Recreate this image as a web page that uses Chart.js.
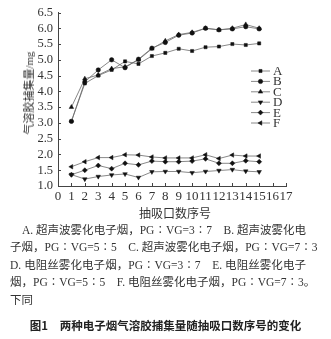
<!DOCTYPE html>
<html>
<head>
<meta charset="utf-8">
<script src="https://cdn.jsdelivr.net/npm/chart.js@4/dist/chart.umd.min.js"></script>
<style>
  html, body { margin: 0; padding: 0; background: #fff; }
  #wrap { position: relative; width: 331px; height: 339px; overflow: hidden; }
  #chartBox { position: absolute; left: 0; top: 0; width: 331px; height: 222px; }
  #ytitle { position: absolute; left: 28px; top: 93px; transform: translate(-50%, -50%) rotate(-90deg);
    font-family: "Liberation Serif", "Noto Sans CJK SC", serif; font-size: 11px; color: #333; white-space: nowrap; }
  #xtitle { position: absolute; left: 175px; top: 212px; transform: translate(-50%, -50%);
    font-family: "Noto Sans CJK SC", sans-serif; font-size: 12px; color: #333; white-space: nowrap; }
  #notes { position: absolute; left: 10px; top: 222px; width: 296px; font-family: "Liberation Serif", "Noto Sans CJK SC", serif;
    font-size: 11.5px; color: #333; line-height: 17.4px; }
  .ln { text-align: justify; text-align-last: justify; white-space: nowrap; }
  .ln1 { padding-left: 12px; }
  .last { text-align: left; text-align-last: left; }
  #cap { position: absolute; left: 0; top: 317px; width: 331px; text-align: center; font-family: "Noto Sans CJK SC", sans-serif;
    font-weight: bold; font-size: 11.5px; color: #222; white-space: nowrap; }
</style>
</head>
<body>
<div id="wrap">
  <div id="chartBox"><canvas id="c"></canvas></div>
  <div id="ytitle">气溶胶捕集量/mg</div>
  <div id="xtitle">抽吸口数序号</div>
  <div id="notes">
    <div class="ln ln1">A. 超声波雾化电子烟，PG∶VG=3∶7　B. 超声波雾化电</div>
    <div class="ln">子烟，PG∶VG=5∶5　C. 超声波雾化电子烟，PG∶VG=7∶3</div>
    <div class="ln">D. 电阻丝雾化电子烟，PG∶VG=3∶7　E. 电阻丝雾化电子</div>
    <div class="ln">烟，PG∶VG=5∶5　F. 电阻丝雾化电子烟，PG∶VG=7∶3。</div>
    <div class="ln last">下同</div>
  </div>
  <div id="cap">图1　两种电子烟气溶胶捕集量随抽吸口数序号的变化</div>
</div>
<script>
const puffs = [1,2,3,4,5,6,7,8,9,10,11,12,13,14,15];
const seriesNames = ['A','B','C','D','E','F'];
const A = [3.05,4.25,4.50,4.68,4.95,4.87,5.12,5.22,5.35,5.28,5.40,5.42,5.50,5.47,5.52];
const B = [3.05,4.30,4.68,5.00,4.75,5.02,5.37,5.55,5.78,5.85,6.00,5.95,5.98,6.05,5.98];
const C = [3.50,4.40,4.52,4.72,4.78,5.00,5.35,5.60,5.80,5.87,6.00,5.95,6.00,6.12,6.00];
const D = [1.36,1.22,1.30,1.35,1.38,1.27,1.45,1.46,1.46,1.42,1.46,1.49,1.52,1.47,1.45];
const E = [1.36,1.50,1.65,1.55,1.72,1.67,1.79,1.77,1.77,1.79,1.86,1.72,1.72,1.80,1.77];
const F = [1.61,1.77,1.90,1.90,1.99,1.98,1.92,1.89,1.89,1.89,1.99,1.87,1.98,1.95,1.95];
const xTicks = [0,1,2,3,4,5,6,7,8,9,10,11,12,13,14,15,16,17];
const yTicks = [1.0,1.5,2.0,2.5,3.0,3.5,4.0,4.5,5.0,5.5,6.0,6.5];

const values = [A,B,C,D,E,F];
const styles = [
  {pointStyle:'rect', rotation:0, r:2.2},
  {pointStyle:'circle', rotation:0, r:2.2},
  {pointStyle:'triangle', rotation:0, r:2.6},
  {pointStyle:'triangle', rotation:180, r:2.6},
  {pointStyle:'rectRot', rotation:0, r:2.5},
  {pointStyle:'triangle', rotation:-90, r:2.6}
];

const datasets = values.map((vals, i) => ({
  label: seriesNames[i],
  data: vals.map((v, j) => ({x: puffs[j], y: v})),
  borderColor: '#6a6a6a',
  borderWidth: 0.8,
  backgroundColor: '#111',
  pointBackgroundColor: '#111',
  pointBorderColor: '#111',
  pointBorderWidth: 0.5,
  pointStyle: styles[i].pointStyle,
  pointRotation: styles[i].rotation,
  pointRadius: styles[i].r,
  tension: 0
}));

const inwardTicks = {
  id: 'inwardTicks',
  afterDraw(chart) {
    const ctx = chart.ctx;
    const xs = chart.scales.x, ys = chart.scales.y;
    ctx.save();
    ctx.strokeStyle = '#444';
    ctx.lineWidth = 1;
    xTicks.forEach(v => {
      const px = Math.round(xs.getPixelForValue(v)) + 0.5;
      ctx.beginPath(); ctx.moveTo(px, ys.bottom); ctx.lineTo(px, ys.bottom - 3); ctx.stroke();
    });
    yTicks.forEach(v => {
      const py = Math.round(ys.getPixelForValue(v)) + 0.5;
      ctx.beginPath(); ctx.moveTo(xs.left, py); ctx.lineTo(xs.left + 3, py); ctx.stroke();
    });
    ctx.restore();
  }
};

const customLegend = {
  id: 'customLegend',
  afterDraw(chart, args, opts) {
    const ctx = chart.ctx;
    ctx.save();
    chart.data.datasets.forEach((ds, i) => {
      const y = opts.y0 + i * opts.dy;
      ctx.strokeStyle = '#6a6a6a';
      ctx.lineWidth = 0.8;
      ctx.beginPath(); ctx.moveTo(opts.x0, y); ctx.lineTo(opts.x0 + opts.len, y); ctx.stroke();
      ctx.fillStyle = '#111';
      ctx.strokeStyle = '#111';
      ctx.lineWidth = 0.5;
      Chart.helpers.drawPoint(ctx, {pointStyle: ds.pointStyle, rotation: ds.pointRotation, radius: ds.pointRadius, borderWidth: 0.5},
        opts.x0 + opts.len / 2, y);
      ctx.fillStyle = '#333';
      ctx.font = '13px "Liberation Serif", serif';
      ctx.textBaseline = 'middle';
      ctx.textAlign = 'left';
      ctx.fillText(ds.label, opts.x0 + opts.len + 3, y + 0.5);
    });
    ctx.restore();
  }
};

new Chart(document.getElementById('c'), {
  type: 'line',
  data: { datasets },
  plugins: [inwardTicks, customLegend],
  options: {
    responsive: true,
    maintainAspectRatio: false,
    animation: false,
    layout: { padding: { left: 0, top: 6, right: 45, bottom: 0 } },
    plugins: {
      legend: { display: false },
      tooltip: { enabled: false },
      customLegend: { x0: 251, y0: 71, dy: 10.4, len: 19 }
    },
    scales: {
      x: {
        type: 'linear', min: 0, max: 17,
        afterBuildTicks: s => { s.ticks = xTicks.map(v => ({value: v})); },
        afterFit: s => { s.height = 36; },
        grid: { display: true, drawOnChartArea: false, drawTicks: false, color: '#444' },
        border: { display: true, color: '#444', width: 1 },
        ticks: { color: '#333', padding: 3, maxRotation: 0, autoSkip: false,
          font: { family: '"Liberation Serif", serif', size: 13 } }
      },
      y: {
        type: 'linear', min: 1.0, max: 6.5,
        afterBuildTicks: s => { s.ticks = yTicks.map(v => ({value: v})); },
        afterFit: s => { s.width = 58; },
        grid: { display: true, drawOnChartArea: false, drawTicks: false, color: '#444' },
        border: { display: true, color: '#444', width: 1 },
        ticks: { color: '#333', padding: 5, autoSkip: false, callback: v => Number(v).toFixed(1),
          font: { family: '"Liberation Serif", serif', size: 12.5 } }
      }
    }
  }
});
</script>
</body>
</html>
